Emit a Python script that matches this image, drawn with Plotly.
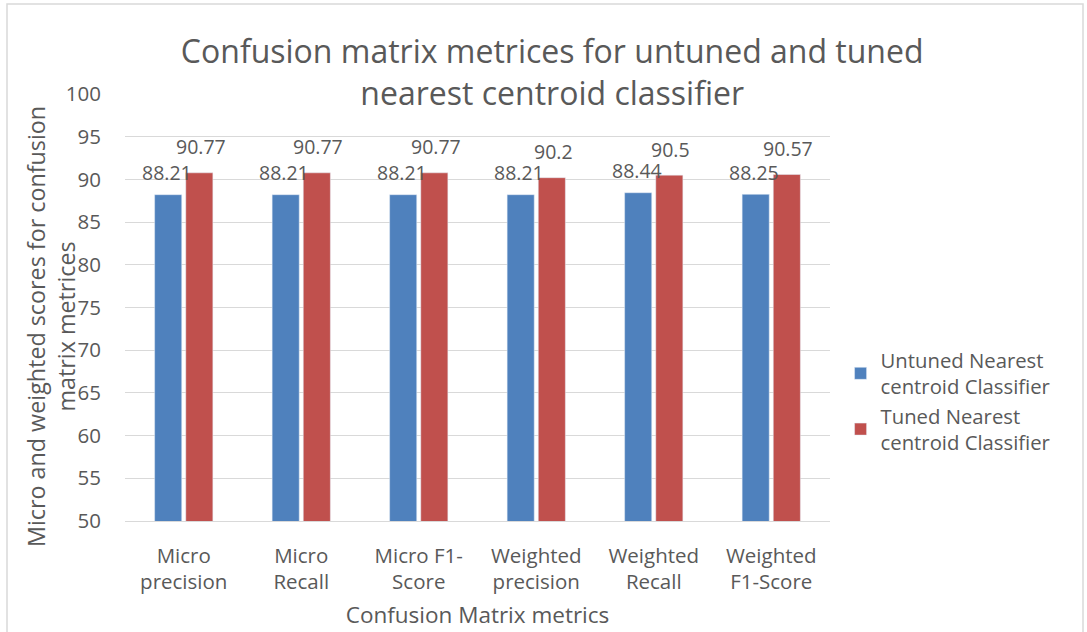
import plotly.graph_objects as go

categories = ["Micro<br>precision", "Micro<br>Recall", "Micro F1-<br>Score",
              "Weighted<br>precision", "Weighted<br>Recall", "Weighted<br>F1-Score"]
untuned = [88.21, 88.21, 88.21, 88.21, 88.44, 88.25]
tuned = [90.77, 90.77, 90.77, 90.2, 90.5, 90.57]
series_names = ["Untuned Nearest<br>centroid Classifier", "Tuned Nearest<br>centroid Classifier"]
colors = ["#4f81bd", "#c0504d"]

FONT = "Open Sans"
TXT = "#595959"

L, R, T, B = 125, 257, 94, 111
W, H = 1087, 632
pw, ph = W - L - R, H - T - B

fig = go.Figure()
for name, vals, col in zip(series_names, [untuned, tuned], colors):
    fig.add_trace(go.Bar(x=categories, y=vals, name=name, marker_color=col))

# data labels, centred over each bar
for vals, dx, dy in zip([untuned, tuned], [-17, 17], [22, 26]):
    for c, v in zip(categories, vals):
        fig.add_annotation(x=c, y=v, xref="x", yref="y", text=f"{v:g}",
                           showarrow=False, xshift=dx, yshift=dy, yanchor="middle",
                           font=dict(size=19.5, color=TXT, family=FONT))

# y axis title placed as annotation to match original position
fig.add_annotation(xref="paper", yref="paper", x=(51 - L) / pw, y=(ph - (327 - T)) / ph,
                   xanchor="center", yanchor="middle", textangle=-90, showarrow=False,
                   text="Micro and weighted scores for confusion<br>matrix metrices",
                   font=dict(size=23.3, color=TXT, family=FONT))

fig.update_layout(
    width=W, height=H,
    margin=dict(l=L, r=R, t=T, b=B, pad=0),
    paper_bgcolor="white", plot_bgcolor="white",
    font=dict(family=FONT, color=TXT, size=19),
    barmode="group", bargap=0.47, bargroupgap=0.13,
    title=dict(text="Confusion matrix metrices for untuned and tuned<br>nearest centroid classifier",
               x=0.508, xanchor="center", xref="container",
               y=1 - 63 / H, yanchor="middle", yref="container",
               font=dict(size=32, color=TXT, family=FONT)),
    xaxis=dict(showline=True, linecolor="#d9d9d9", linewidth=1, ticks="",
               ticklabelstandoff=16, automargin=False,
               tickfont=dict(size=20.5, color=TXT),
               title=dict(text="Confusion Matrix metrics", font=dict(size=22.5, color=TXT), standoff=12)),
    yaxis=dict(range=[50, 100], dtick=5, showgrid=True, gridcolor="#d9d9d9", gridwidth=1,
               zeroline=False, showline=False, ticks="", ticklabelstandoff=23, automargin=False,
               tickfont=dict(size=20.5, color=TXT)),
    legend=dict(x=1.015, xanchor="left", y=0.28, yanchor="middle",
                font=dict(size=20.3, color=TXT, family=FONT),
                tracegroupgap=68, itemwidth=30),
    showlegend=True,
)

fig.add_shape(type="rect", xref="paper", yref="paper",
              x0=(7 - L) / pw, x1=(W - 4 - L) / pw,
              y0=(H - B - (H + 10)) / ph, y1=(H - B - 4) / ph,
              line=dict(color="#d9d9d9", width=1.5), fillcolor="rgba(0,0,0,0)", layer="below")

fig.write_html("out.html", config={"displayModeBar": False},
               post_script="document.body.style.margin='0';")
